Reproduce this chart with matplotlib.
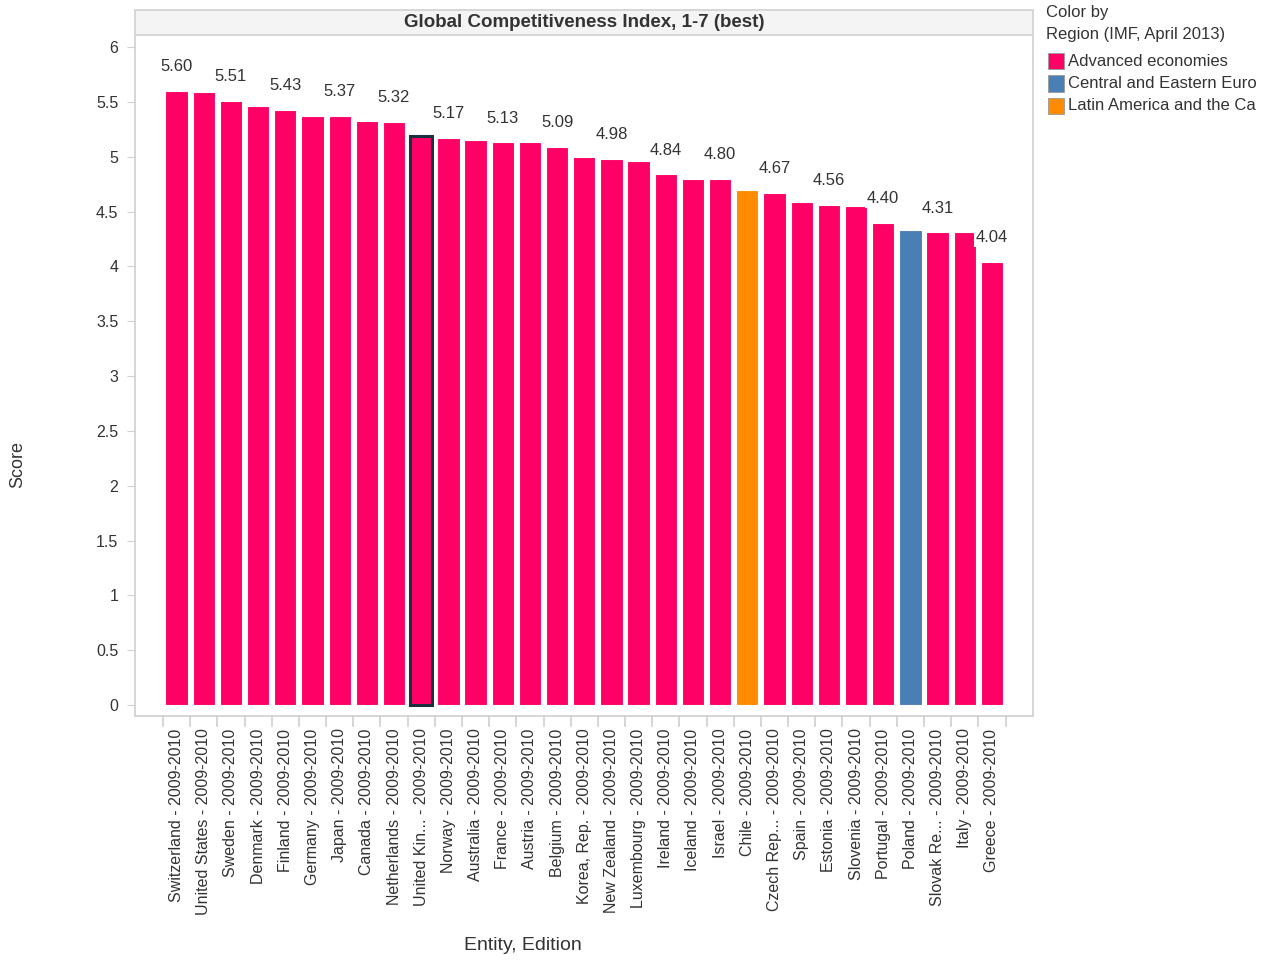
import matplotlib
matplotlib.use("Agg")
from matplotlib import pyplot as plt
from matplotlib.patches import Rectangle

countries = ["Switzerland", "United States", "Sweden", "Denmark", "Finland", "Germany",
             "Japan", "Canada", "Netherlands", "United Kin...", "Norway", "Australia",
             "France", "Austria", "Belgium", "Korea, Rep.", "New Zealand", "Luxembourg",
             "Ireland", "Iceland", "Israel", "Chile", "Czech Rep...", "Spain", "Estonia",
             "Slovenia", "Portugal", "Poland", "Slovak Re...", "Italy", "Greece"]
edition = "2009-2010"
scores = [5.60, 5.59, 5.51, 5.46, 5.43, 5.37, 5.37, 5.33, 5.32, 5.19, 5.17, 5.15,
          5.13, 5.13, 5.09, 5.00, 4.98, 4.96, 4.84, 4.80, 4.80, 4.70, 4.67, 4.59,
          4.56, 4.55, 4.40, 4.33, 4.31, 4.31, 4.04]
regions = ["Advanced economies"] * 21 + ["Latin America and the Ca"] + ["Advanced economies"] * 5 \
          + ["Central and Eastern Euro"] + ["Advanced economies"] * 3
region_order = ["Advanced economies", "Central and Eastern Euro", "Latin America and the Ca"]
region_colors = {"Advanced economies": "#ff0066",
                 "Central and Eastern Euro": "#4a7fb5",
                 "Latin America and the Ca": "#ff8c00"}
highlight = "United Kin..."

txt = "#333333"
grid = "#d0d0d0"
plt.rcParams['font.family'] = ['Liberation Sans', 'DejaVu Sans']

fig = plt.figure(figsize=(12.84, 9.6), dpi=100)
ax = fig.add_axes([135 / 1284, 1 - 716 / 960, (1033 - 135) / 1284, (716 - 35) / 960])

x = list(range(len(countries)))
colors = [region_colors[r] for r in regions]
bars = ax.bar(x, scores, width=0.82, color=colors, edgecolor="white", linewidth=0.8, zorder=2)
for b, c in zip(bars, countries):
    if c == highlight:
        b.set_edgecolor("#1c2f40")
        b.set_linewidth(2.2)
        b.set_zorder(3)

# labels on every other bar, white box like the original
for i in range(0, len(scores), 2):
    ax.annotate(f"{scores[i]:.2f}", (x[i], scores[i]), xytext=(0, 12), textcoords="offset points",
                ha="center", va="bottom", fontsize=12, color=txt, zorder=4,
                bbox=dict(boxstyle="square,pad=0.12", fc="white", ec="none"))

ax.set_xlim(-1.53, 31.51)
ax.set_ylim(-0.1, 6.11)
yt = [i * 0.5 for i in range(13)]
ax.set_yticks(yt)
ax.set_yticklabels([f"{v:g}" for v in yt], fontsize=11.5, color=txt)
ax.tick_params(axis="y", length=6, color=grid, pad=6)

ax.set_xticks(x)
ax.set_xticklabels([f"{c} - {edition}" for c in countries], rotation=90, fontsize=11.5,
                   color=txt, va="top")
ax.tick_params(axis="x", length=0, pad=9)
# category boundary ticks below the axis
for i in range(len(countries) + 1):
    ax.plot([i - 0.5, i - 0.5], [-0.1, -0.19], color=grid, lw=1.2, clip_on=False)

for s in ax.spines.values():
    s.set_color(grid)
    s.set_linewidth(1.2)
ax.spines["top"].set_visible(False)

ax.set_ylabel("Score", fontsize=13, color=txt)
ax.yaxis.set_label_coords((18 - 135) / 898, (716 - 465) / 681)
ax.set_xlabel("Entity, Edition", fontsize=14, color=txt)
ax.xaxis.set_label_coords((523 - 135) / 898, (716 - 945) / 681)
ax.xaxis.label.set_va("center")
ax.yaxis.label.set_va("center")

# title band
band = Rectangle((0, 1), 1, 25 / 681, transform=ax.transAxes, fc="#f4f4f4", ec=grid,
                 lw=1.2, clip_on=False)
ax.add_patch(band)
ax.text(0.5, 1 + 12.5 / 681, "Global Competitiveness Index, 1-7 (best)", transform=ax.transAxes,
        ha="center", va="center", fontsize=13.5, fontweight="bold", color=txt)

# legend
fig.text(1046 / 1284, 1 - 13 / 960, "Color by", fontsize=12, color=txt, va="center")
fig.text(1046 / 1284, 1 - 34 / 960, "Region (IMF, April 2013)", fontsize=12, color=txt, va="center")
for k, r in enumerate(region_order):
    yc = 61 + k * 22.5
    fig.patches.append(Rectangle((1048 / 1284, 1 - (yc + 8) / 960), 16 / 1284, 16 / 960,
                                 transform=fig.transFigure, fc=region_colors[r], ec="#999999",
                                 lw=0.6))
    fig.text(1068 / 1284, 1 - yc / 960, r, fontsize=12, color=txt, va="center")

plt.savefig("out.png", dpi=100)
